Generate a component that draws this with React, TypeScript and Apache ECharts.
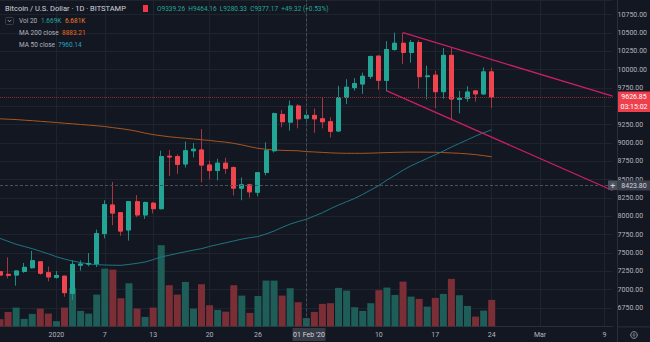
import React, { useEffect, useRef } from 'react';
import * as echarts from 'echarts';

// ---- data ----
const startDate = [2019, 11, 25]; // Dec 25 2019
const totalDays = 77; // through Mar 10 2020

const opens = [7245, 7210, 7200, 7250, 7300, 7380, 7232, 7170, 7185, 6950, 7335, 7350, 7355, 7765, 8155, 8050, 7815, 8200, 8020, 8180, 8105, 8820, 8815, 8715, 8895, 8905, 8700, 8625, 8725, 8665, 8385, 8430, 8330, 8600, 8895, 9390, 9285, 9505, 9339.26, 9377, 9330, 9290, 9165, 9620, 9755, 9805, 9910, 10185, 9855, 10275, 10360, 10235, 10370, 9905, 9925, 9700, 10195, 9595, 9610, 9710, 9670, 9970];
const closes = [7200, 7197, 7255, 7305, 7395, 7225, 7175, 7195, 6960, 7345, 7350, 7358, 7765, 8160, 8045, 7800, 8200, 8020, 8190, 8105, 8815, 8810, 8710, 8895, 8915, 8700, 8625, 8725, 8655, 8385, 8430, 8335, 8595, 8895, 9400, 9290, 9505, 9330, 9377.17, 9330, 9290, 9160, 9620, 9760, 9810, 9910, 10180, 9855, 10275, 10360, 10235, 10370, 9905, 9915, 9700, 10195, 9600, 9610, 9695, 9670, 9970, 9626.85];
const highs = [7255, 7442, 7262, 7365, 7530, 7390, 7315, 7255, 7190, 7400, 7400, 7500, 7820, 8220, 8470, 8060, 8205, 8290, 8200, 8195, 8895, 8905, 8845, 9020, 9000, 9190, 8760, 8785, 8800, 8680, 8530, 8445, 8600, 9010, 9415, 9450, 9580, 9530, 9464.16, 9470, 9630, 9350, 9780, 9870, 9885, 9960, 10190, 10190, 10390, 10505, 10505, 10405, 10400, 10055, 9985, 10295, 10300, 9710, 9775, 9720, 10030, 10025];
const lows = [7190, 7155, 7055, 7230, 7290, 7205, 7115, 7150, 6905, 6860, 7260, 7320, 7310, 7700, 7880, 7735, 7670, 7990, 7965, 8040, 8095, 8550, 8580, 8665, 8805, 8465, 8505, 8490, 8580, 8285, 8220, 8255, 8275, 8560, 8870, 9215, 9170, 9200, 9280.33, 9140, 9200, 9075, 9150, 9530, 9715, 9670, 9875, 9725, 9705, 10260, 10075, 10095, 9740, 9595, 9475, 9605, 9325, 9405, 9565, 9565, 9655, 9475];
const volumes = [1450, 2910, 3780, 1510, 2510, 3580, 2570, 1050, 3780, 7680, 3120, 2570, 6390, 11620, 11420, 5670, 8680, 3580, 1910, 3780, 16320, 8280, 6390, 8940, 3580, 8480, 4260, 3320, 2970, 8280, 6190, 2710, 6130, 9210, 9210, 6190, 7680, 4860, 1669, 2910, 4520, 4660, 7740, 7200, 3860, 3120, 4660, 7280, 7800, 6330, 9000, 5990, 5530, 3980, 5730, 6530, 9550, 6270, 4120, 1970, 3180, 5330];
const ma200 = [9330, 9325, 9320, 9312, 9305, 9296, 9288, 9280, 9270, 9262, 9253, 9244, 9235, 9225, 9210, 9196, 9180, 9160, 9135, 9115, 9100, 9085, 9075, 9065, 9055, 9045, 9035, 9022, 9012, 8995, 8975, 8950, 8928, 8915, 8905, 8900, 8897, 8894, 8883.21, 8878, 8872, 8866, 8862, 8860, 8860, 8860, 8862, 8866, 8870, 8873, 8875, 8876, 8876, 8875, 8874, 8870, 8865, 8860, 8852, 8842, 8828, 8812];
const ma50 = [7700, 7660, 7620, 7590, 7560, 7525, 7490, 7450, 7418, 7392, 7370, 7352, 7342, 7337, 7334, 7333, 7345, 7360, 7378, 7410, 7448, 7470, 7495, 7518, 7540, 7560, 7590, 7615, 7640, 7665, 7690, 7710, 7725, 7760, 7800, 7850, 7895, 7930, 7960.14, 8005, 8050, 8105, 8155, 8200, 8245, 8300, 8360, 8420, 8495, 8560, 8630, 8690, 8740, 8790, 8840, 8890, 8945, 8995, 9045, 9095, 9140, 9180];
const upperTrend: [string, number][] = [['2020-02-13', 10505], ['2020-03-10', 9639]];
const lowerTrend: [string, number][] = [['2020-02-11', 9710], ['2020-03-10', 8353]];
const lastPrice = 9626.85;
const crosshairPrice = 8423.8;
const crosshairDate = '2020-02-01';
const hiddenPriceLabels = [9500]; // covered by the last-price box in the reference
const tickLabels: Record<string, string> = {
  '2020-01-01': '2020', '2020-01-07': '7', '2020-01-13': '13', '2020-01-20': '20', '2020-01-26': '26',
  '2020-02-10': '10', '2020-02-17': '17', '2020-02-24': '24', '2020-03-01': 'Mar', '2020-03-09': '9',
};
const gridDates = ['2020-01-01', '2020-01-07', '2020-01-13', '2020-01-20', '2020-01-26', '2020-02-01', '2020-02-10', '2020-02-17', '2020-02-24', '2020-03-01', '2020-03-09'];

const categories: string[] = [];
for (let i = 0; i < totalDays; i++) {
  categories.push(new Date(Date.UTC(startDate[0], startDate[1], startDate[2] + i)).toISOString().slice(0, 10));
}

const UP = '#22a595';
const DOWN = '#f0444f';
const UP_WICK = '#1f8a80';
const DOWN_WICK = '#a33641';
const FONT = 'Roboto, sans-serif';

export default function App() {
  const ref = useRef<HTMLDivElement>(null);
  useEffect(() => {
    document.body.style.margin = '0';
    const chart = echarts.init(ref.current!, undefined, { renderer: 'svg' });
    const W = 650;
    const H = 342;
    const axisX = 617.5;
    const baseY = 326.4;
    const priceY = (p: number) => (10950 - p) / 4450 * baseY;
    const t = (x: number, y: number, text: string, fill: string, size = 6.5, extra: any = {}) => ({
      type: 'text', x, y, z: 100,
      style: { text, fill, fontSize: size, fontFamily: FONT, verticalAlign: 'middle', ...extra },
    });
    const option: any = {
      animation: false,
      backgroundColor: '#131722',
      textStyle: { fontFamily: FONT },
      grid: { left: 0, right: W - axisX, top: 0, bottom: H - baseY, containLabel: false },
      xAxis: {
        type: 'category',
        data: categories,
        boundaryGap: false,
        axisLine: { show: true, lineStyle: { color: '#2a2e39' } },
        axisTick: { show: false },
        axisLabel: {
          interval: (_i: number, v: string) => v in tickLabels,
          formatter: (v: string) => tickLabels[v] || '',
          color: '#b2b5be', fontSize: 7, margin: 5, fontFamily: FONT,
        },
        splitLine: {
          show: true,
          interval: (_i: number, v: string) => gridDates.indexOf(v) >= 0,
          lineStyle: { color: '#1f232e', width: 1 },
        },
      },
      yAxis: [
        {
          type: 'value', position: 'right', min: 6500, max: 10950, interval: 250,
          axisLine: { show: false }, axisTick: { show: false },
          axisLabel: {
            color: '#b2b5be', fontSize: 7, margin: 5, fontFamily: FONT,
            showMinLabel: false, showMaxLabel: false,
            formatter: (v: number) => (hiddenPriceLabels.indexOf(v) >= 0 ? '' : v.toFixed(2)),
          },
          splitLine: { show: true, lineStyle: { color: '#1f232e', width: 1 } },
        },
        { type: 'value', min: 0, max: 65600, show: false, splitLine: { show: false } },
      ],
      series: [
        {
          type: 'bar', yAxisIndex: 1, barWidth: 7, z: 1,
          data: volumes.map((v, i) => ({ value: v, itemStyle: { color: closes[i] >= opens[i] ? '#1e5d58' : '#7b2e36' } })),
        },
        {
          type: 'line', data: ma200, showSymbol: false, z: 2,
          lineStyle: { color: '#a9541d', width: 1 },
        },
        {
          type: 'line', data: ma50, showSymbol: false, z: 2,
          lineStyle: { color: '#1d7583', width: 1 },
        },
        {
          type: 'candlestick', barWidth: 4.5, z: 3,
          data: opens.map((o, i) => [o, closes[i], lows[i], highs[i]]),
          itemStyle: { color: UP_WICK, color0: DOWN_WICK, borderColor: UP_WICK, borderColor0: DOWN_WICK, borderWidth: 1 },
        },
        {
          type: 'candlestick', barWidth: 4.5, z: 4,
          data: opens.map((o, i) => [o, closes[i], Math.min(o, closes[i]), Math.max(o, closes[i])]),
          itemStyle: { color: UP, color0: DOWN, borderColor: UP, borderColor0: DOWN, borderWidth: 1 },
          markLine: {
            silent: true, symbol: ['none', 'none'], label: { show: false },
            data: [
              { yAxis: lastPrice, lineStyle: { color: '#8b2c36', type: 'dotted', width: 1 } },
              { yAxis: crosshairPrice, lineStyle: { color: '#4a4e5a', type: [3, 2], width: 1 } },
              { xAxis: crosshairDate, lineStyle: { color: '#4a4e5a', type: [3, 2], width: 1 } },
            ],
          },
        },
        {
          type: 'line', data: upperTrend, showSymbol: false, z: 5,
          lineStyle: { color: '#cc1f62', width: 1.3 },
        },
        {
          type: 'line', data: lowerTrend, showSymbol: false, z: 5,
          lineStyle: { color: '#cc1f62', width: 1.3 },
        },
      ],
      graphic: [
        { type: 'line', z: 100, shape: { x1: axisX, y1: 0, x2: axisX, y2: H }, style: { stroke: '#2a2e39', lineWidth: 1 } },
        { type: 'line', z: 100, shape: { x1: axisX, y1: baseY + 0.5, x2: W, y2: baseY + 0.5 }, style: { stroke: '#2a2e39', lineWidth: 1 } },
        // header
        t(5, 8.5, 'Bitcoin / U.S. Dollar · 1D · BITSTAMP', '#d1d4dc', 7.5),
        { type: 'rect', z: 100, shape: { x: 143, y: 5, width: 5, height: 7 }, style: { fill: '#f23645' } },
        t(157, 8.5, 'O9339.26  H9464.16  L9280.33  C9377.17  +49.32 (+0.53%)', '#26a69a', 6.5),
        { type: 'rect', z: 100, shape: { x: 5.5, y: 17.5, width: 8, height: 7, r: 1 }, style: { fill: 'none', stroke: '#363a45', lineWidth: 1 } },
        { type: 'polyline', z: 100, shape: { points: [[7.8, 20], [9.5, 21.8], [11.2, 20]] }, style: { fill: 'none', stroke: '#b2b5be', lineWidth: 0.8 } },
        t(19, 21, 'Vol 20', '#b2b5be', 6.5),
        t(41, 21, '1.669K', '#26a69a', 6.5),
        t(65, 21, '6.681K', '#f57c22', 6.5),
        t(19, 33.3, 'MA 200 close', '#b2b5be', 6.5),
        t(62, 33.3, '8883.21', '#e8691e', 6.5),
        t(19, 45, 'MA 50 close', '#b2b5be', 6.5),
        t(58, 45, '7960.14', '#25a3bd', 6.5),
        // last price box
        { type: 'rect', z: 100, shape: { x: axisX + 0.5, y: priceY(lastPrice) - 5.5, width: W - axisX, height: 20.5 }, style: { fill: '#ef3f4c' } },
        t(634, priceY(lastPrice), '9626.85', '#ffffff', 7, { align: 'center' }),
        t(634, priceY(lastPrice) + 9.6, '03:15:02', '#ffffff', 7, { align: 'center' }),
        // crosshair price box
        { type: 'rect', z: 100, shape: { x: axisX + 0.5, y: priceY(crosshairPrice) - 4.8, width: W - axisX, height: 10 }, style: { fill: '#3b3f4b' } },
        t(634, priceY(crosshairPrice) + 0.3, '8423.80', '#d1d4dc', 7, { align: 'center' }),
        { type: 'rect', z: 100, shape: { x: 608, y: priceY(crosshairPrice) - 4.8, width: 9.5, height: 9.6 }, style: { fill: '#4b505c' } },
        t(612.8, priceY(crosshairPrice) + 0.3, '+', '#d1d4dc', 9, { align: 'center' }),
        // crosshair date box
        { type: 'rect', z: 100, shape: { x: 292.5, y: 328, width: 33, height: 13 }, style: { fill: '#363a45' } },
        t(309, 335, "01 Feb '20", '#d1d4dc', 7, { align: 'center' }),
        // settings gear
        { type: 'circle', z: 100, shape: { cx: 634, cy: 335, r: 3.3 }, style: { fill: 'none', stroke: '#9598a1', lineWidth: 1 } },
        { type: 'circle', z: 100, shape: { cx: 634, cy: 335, r: 1.1 }, style: { fill: 'none', stroke: '#9598a1', lineWidth: 0.8 } },
      ],
    };
    chart.setOption(option);
    return () => chart.dispose();
  }, []);
  return <div ref={ref} style={{ width: 650, height: 342, position: 'fixed', left: 0, top: 0 }} />;
}
